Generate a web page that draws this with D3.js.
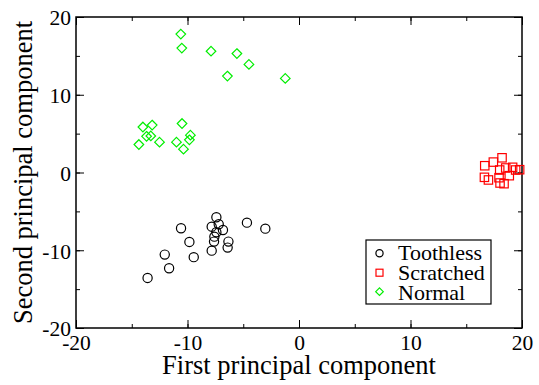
<!DOCTYPE html>
<html><head><meta charset="utf-8">
<script src="https://cdn.jsdelivr.net/npm/d3@7"></script>
<style>body{margin:0;background:#fff}svg{display:block}</style>
</head><body><svg id="c" width="539" height="385"></svg>
<script>
const xTicks=[-20,-10,0,10,20];
const yTicks=[-20,-10,0,10,20];
const seriesNames=["Toothless","Scratched","Normal"];
const toothlessX=[-7.41,-7.83,-7.20,-6.82,-7.41,-7.59,-7.62,-6.33,-6.40,-7.83,-4.67,-3.02,-10.58,-9.83,-12.04,-9.44,-11.65,-13.58];
const toothlessY=[-5.76,-6.97,-6.66,-7.39,-7.69,-8.25,-8.89,-8.89,-9.66,-10.05,-6.45,-7.22,-7.17,-8.93,-10.56,-10.89,-12.31,-13.56];
const scratchedX=[16.66,17.43,18.21,18.54,19.16,19.79,18.0,16.63,16.99,17.94,18.86,18.03,18.39,19.43];
const scratchedY=[0.87,1.34,1.89,0.58,0.67,0.36,0.32,-0.62,-0.96,-0.67,-0.41,-1.35,-1.44,0.32];
const normalX=[-10.6,-10.51,-7.89,-5.57,-4.49,-6.42,-1.23,-10.49,-13.17,-14.0,-13.67,-13.29,-9.74,-9.83,-12.51,-10.99,-14.36,-10.36];
const normalY=[17.8,16.0,15.6,15.3,13.9,12.4,12.1,6.3,6.1,5.85,4.65,4.7,4.8,4.2,3.9,3.9,3.6,3.0];

const FONT="Liberation Serif, DejaVu Serif, serif";
const svg=d3.select("#c").attr("font-family",FONT);
const L=76,R=522,T=17,B=328;
const x=d3.scaleLinear().domain([-20,20]).range([L,R]);
const y=d3.scaleLinear().domain([-20,20]).range([B,T]);
const minor=d3.range(-20,21,5);

const addAxis=(ax,tr,vals,size,labels)=>{
  const g=svg.append("g").attr("transform",tr).call(ax.tickValues(vals).tickSize(size).tickFormat(labels?(d=>d<0?"-"+(-d):String(d)):""));
  g.attr("font-family",FONT).attr("font-size",21.5);
  g.select(".domain").remove();
  g.selectAll(".tick line").attr("stroke","#000").attr("stroke-width",1);
  g.selectAll(".tick text").attr("fill","#000").attr("font-family",FONT);
  return g;
};
addAxis(d3.axisBottom(x),`translate(0,${B})`,minor,-4,false);
addAxis(d3.axisTop(x),`translate(0,${T})`,minor,-4,false);
addAxis(d3.axisLeft(y),`translate(${L},0)`,minor,-4,false);
addAxis(d3.axisRight(y),`translate(${R},0)`,minor,-4,false);
const xb=addAxis(d3.axisBottom(x),`translate(0,${B})`,xTicks,-8,true);
addAxis(d3.axisTop(x),`translate(0,${T})`,xTicks,-8,false);
const yl=addAxis(d3.axisLeft(y),`translate(${L},0)`,yTicks,-8,true);
addAxis(d3.axisRight(y),`translate(${R},0)`,yTicks,-8,false);
xb.selectAll(".tick text").attr("y",7).attr("dy","0.71em");
yl.selectAll(".tick text").attr("x",-5).attr("dy","0.36em");
svg.append("rect").attr("x",L).attr("y",T).attr("width",R-L).attr("height",B-T).attr("fill","none").attr("stroke","#000").attr("stroke-width",1.5);

svg.append("text").attr("x",(L+R)/2).attr("y",374).attr("text-anchor","middle").attr("font-size",26.5).attr("font-family",FONT).text("First principal component");
svg.append("text").attr("transform",`translate(32,${(T+B)/2}) rotate(-90)`).attr("text-anchor","middle").attr("font-size",26.5).attr("font-family",FONT).text("Second principal component");

const plot=svg.append("g");
const circ=(g,cx,cy,s)=>g.append("circle").attr("cx",cx).attr("cy",cy).attr("r",s).attr("fill","none").attr("stroke","#000").attr("stroke-width",1.2);
const sq=(g,cx,cy,s)=>g.append("rect").attr("x",cx-s).attr("y",cy-s).attr("width",2*s).attr("height",2*s).attr("fill","none").attr("stroke","#ff0000").attr("stroke-width",1.2);
const dia=(g,cx,cy,s)=>g.append("path").attr("d",`M${cx},${cy-s}L${cx+s},${cy}L${cx},${cy+s}L${cx-s},${cy}Z`).attr("fill","none").attr("stroke","#00ee00").attr("stroke-width",1.2);
toothlessX.forEach((v,i)=>circ(plot,x(v),y(toothlessY[i]),4.6));
scratchedX.forEach((v,i)=>sq(plot,x(v),y(scratchedY[i]),4.2));
normalX.forEach((v,i)=>dia(plot,x(v),y(normalY[i]),4.8));

const lg=svg.append("g");
lg.append("rect").attr("x",366).attr("y",240).attr("width",125).attr("height",64).attr("fill","#fff").attr("stroke","#000").attr("stroke-width",1.2);
const symRows=[253.3,272.7,291.7];
const textRows=[260,280,299.5];
const drawers=[circ,sq,dia];
const sizes=[3.6,3.5,3.8];
seriesNames.forEach((n,i)=>{
  drawers[i](lg,379.5,symRows[i],sizes[i]);
  lg.append("text").attr("x",398).attr("y",textRows[i]).attr("font-size",22).attr("font-family",FONT).attr("fill","#000").text(n);
});
</script></body></html>
